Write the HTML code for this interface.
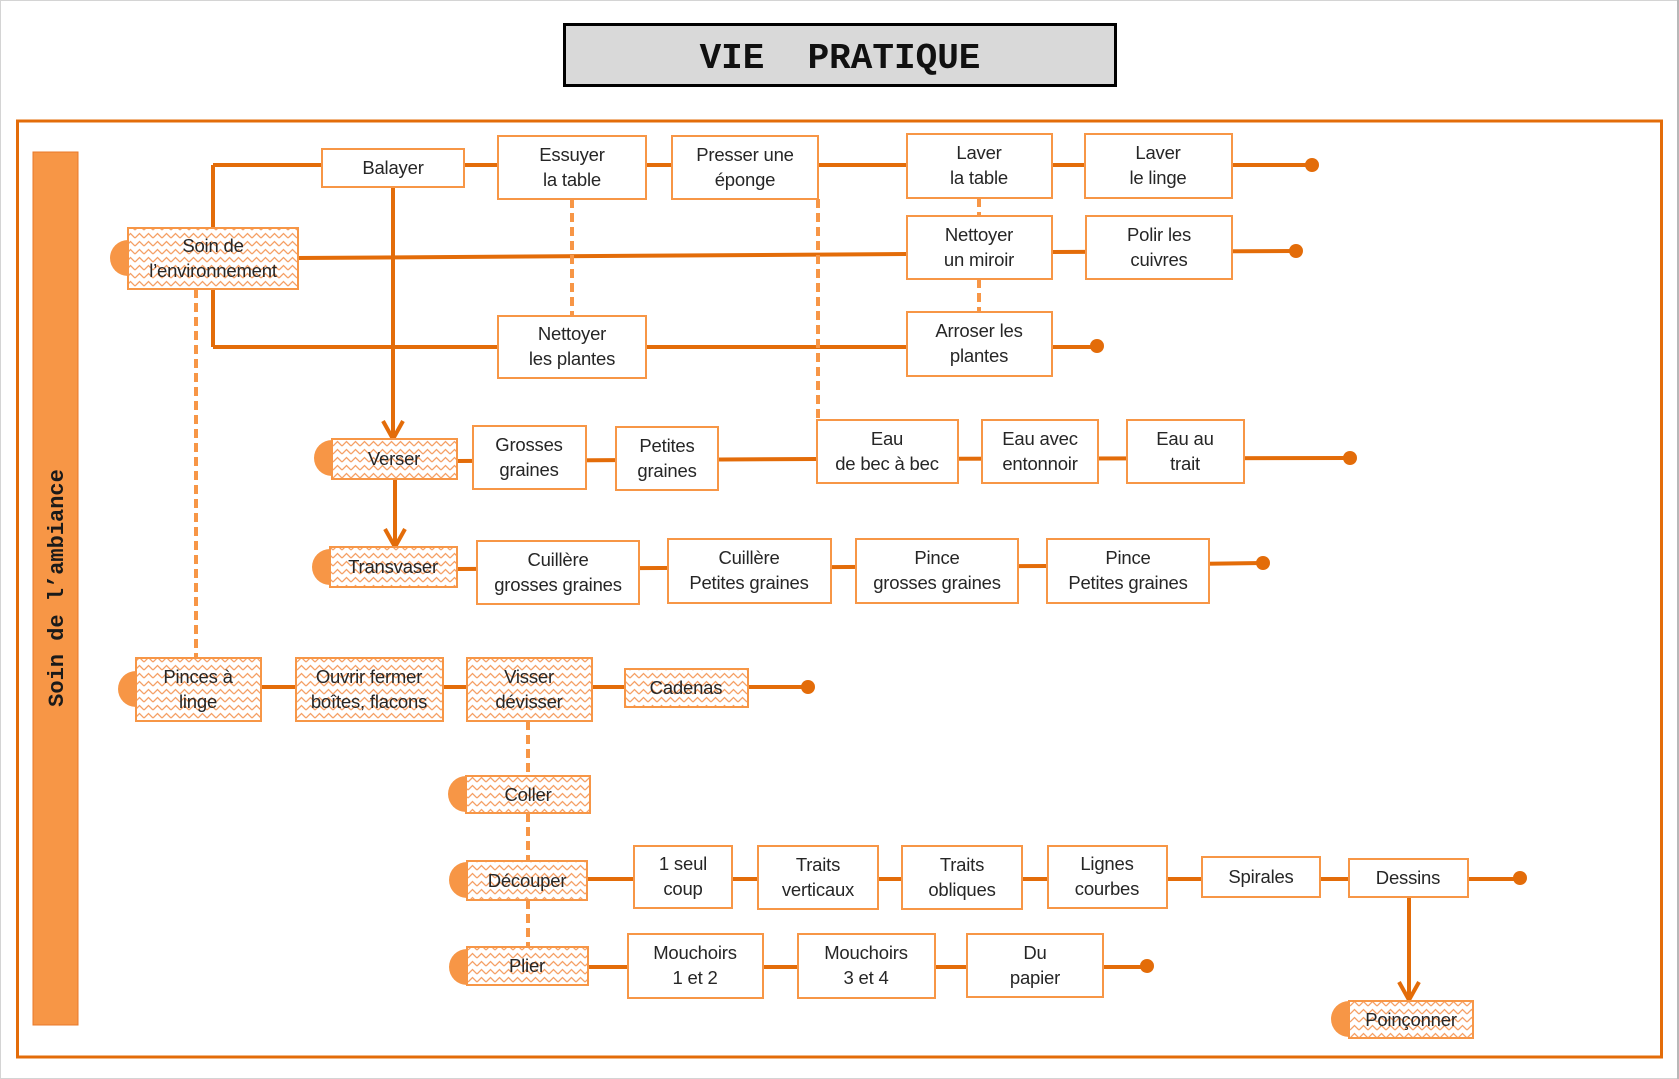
<!DOCTYPE html>
<html><head><meta charset="utf-8">
<style>
html,body{margin:0;padding:0;background:#fff;}
body{width:1679px;height:1079px;overflow:hidden;position:relative;}
svg{position:absolute;left:0;top:0;display:block;}
.t{font-family:"Liberation Sans",sans-serif;font-size:18.5px;fill:#262626;text-anchor:middle;letter-spacing:-0.2px;}
.b{fill:#fff;stroke:#F79646;stroke-width:2;}
.h{fill:url(#zz);stroke:#F79646;stroke-width:2;}
.c{fill:#F79646;}
.ln{stroke:#E36C09;stroke-width:4;fill:none;}
.ds{stroke:#F79646;stroke-width:4;fill:none;stroke-dasharray:9 5;}
.dot{fill:#E36C09;}
</style></head>
<body>
<svg width="1679" height="1079" viewBox="0 0 1679 1079">
<defs>
<pattern id="zz" width="9" height="8" patternUnits="userSpaceOnUse">
<rect width="9" height="8" fill="#fff"/>
<path d="M0 6 L4.5 1.5 L9 6" fill="none" stroke="#F5A066" stroke-width="1.3"/>
</pattern>
</defs>
<!-- page frame -->
<rect x="0.5" y="0.5" width="1677" height="1078" fill="none" stroke="#d4d4d4" stroke-width="1"/>
<line x1="1678" y1="0" x2="1678" y2="1079" stroke="#b8b8b8" stroke-width="2"/>

<!-- title -->
<rect x="564.5" y="24.5" width="551" height="61" fill="#D9D9D9" stroke="#000" stroke-width="3"/>
<text x="840" y="68" style="font-family:'Liberation Mono',monospace;font-weight:bold;font-size:36px;fill:#111;text-anchor:middle;white-space:pre;">VIE  PRATIQUE</text>

<!-- outer border -->
<rect x="17.5" y="121" width="1644" height="936" fill="none" stroke="#E36C09" stroke-width="3"/>

<!-- side bar -->
<rect x="33" y="152" width="45" height="873" fill="#F79646" stroke="#E8782A" stroke-width="1"/>
<text transform="translate(63,588) rotate(-90)" style="font-family:'Liberation Mono',monospace;font-weight:bold;font-size:22px;fill:#1a1a1a;text-anchor:middle;white-space:pre;">Soin de l’ambiance</text>

<!-- solid connectors -->
<path class="ln" d="M213 165 H1312"/>
<path class="ln" d="M213 165 V347"/>
<path class="ln" d="M297 258 L907 254"/>
<path class="ln" d="M1052 252 L1296 251"/>
<path class="ln" d="M213 347 H1097"/>
<path class="ln" d="M393 187 V437"/>
<polyline class="ln" points="383,421 393,439 403,421"/>
<path class="ln" d="M457 461 L817 459 L1350 458"/>
<path class="ln" d="M395 479 V545"/>
<polyline class="ln" points="385,529 395,547 405,529"/>
<path class="ln" d="M457 569 L1047 566 L1263 563"/>
<path class="ln" d="M261 687 H808"/>
<path class="ln" d="M587 879 H1520"/>
<path class="ln" d="M588 967 H1147"/>
<path class="ln" d="M1409 897 V998"/>
<polyline class="ln" points="1399,982 1409,1000 1419,982"/>

<!-- end dots -->
<circle class="dot" cx="1312" cy="165" r="7"/>
<circle class="dot" cx="1296" cy="251" r="7"/>
<circle class="dot" cx="1097" cy="346" r="7"/>
<circle class="dot" cx="1350" cy="458" r="7"/>
<circle class="dot" cx="1263" cy="563" r="7"/>
<circle class="dot" cx="808" cy="687" r="7"/>
<circle class="dot" cx="1520" cy="878" r="7"/>
<circle class="dot" cx="1147" cy="966" r="7"/>

<!-- dashed connectors -->
<path class="ds" d="M196 289 V658"/>
<path class="ds" d="M572 199 V316"/>
<path class="ds" d="M818 199 V420"/>
<path class="ds" d="M979 198 V216"/>
<path class="ds" d="M979 279 V312"/>
<path class="ds" d="M528 721 V776"/>
<path class="ds" d="M528 813 V861"/>
<path class="ds" d="M528 900 V947"/>

<!-- semicircles -->
<circle class="c" cx="128" cy="258" r="18"/>
<circle class="c" cx="332" cy="458" r="18"/>
<circle class="c" cx="330" cy="567" r="18"/>
<circle class="c" cx="136" cy="689" r="18"/>
<circle class="c" cx="466" cy="794" r="18"/>
<circle class="c" cx="467" cy="880" r="18"/>
<circle class="c" cx="467" cy="967" r="18"/>
<circle class="c" cx="1349" cy="1019" r="18"/>

<!-- hatched boxes -->
<rect class="h" x="128" y="228" width="170" height="61"/>
<text class="t" x="213" y="252">Soin  de</text>
<text class="t" x="213" y="277">l’environnement</text>

<rect class="h" x="332" y="439" width="125" height="40"/>
<text class="t" x="394" y="465">Verser</text>

<rect class="h" x="330" y="547" width="127" height="40"/>
<text class="t" x="393" y="573">Transvaser</text>

<rect class="h" x="136" y="658" width="125" height="63"/>
<text class="t" x="198" y="683">Pinces à</text>
<text class="t" x="198" y="708">linge</text>

<rect class="h" x="296" y="658" width="147" height="63"/>
<text class="t" x="369" y="683">Ouvrir  fermer</text>
<text class="t" x="369" y="708">boîtes, flacons</text>

<rect class="h" x="467" y="658" width="125" height="63"/>
<text class="t" x="529" y="683">Visser</text>
<text class="t" x="529" y="708">dévisser</text>

<rect class="h" x="625" y="669" width="123" height="38"/>
<text class="t" x="686" y="694">Cadenas</text>

<rect class="h" x="466" y="776" width="124" height="37"/>
<text class="t" x="528" y="801">Coller</text>

<rect class="h" x="467" y="861" width="120" height="39"/>
<text class="t" x="527" y="887">Découper</text>

<rect class="h" x="467" y="947" width="121" height="38"/>
<text class="t" x="527" y="972">Plier</text>

<rect class="h" x="1349" y="1001" width="124" height="37"/>
<text class="t" x="1411" y="1026">Poinçonner</text>

<!-- plain boxes -->
<rect class="b" x="322" y="149" width="142" height="38"/>
<text class="t" x="393" y="174">Balayer</text>

<rect class="b" x="498" y="136" width="148" height="63"/>
<text class="t" x="572" y="161">Essuyer</text>
<text class="t" x="572" y="186">la table</text>

<rect class="b" x="672" y="136" width="146" height="63"/>
<text class="t" x="745" y="161">Presser une</text>
<text class="t" x="745" y="186">éponge</text>

<rect class="b" x="907" y="134" width="145" height="64"/>
<text class="t" x="979" y="159">Laver</text>
<text class="t" x="979" y="184">la table</text>

<rect class="b" x="1085" y="134" width="147" height="64"/>
<text class="t" x="1158" y="159">Laver</text>
<text class="t" x="1158" y="184">le linge</text>

<rect class="b" x="907" y="216" width="145" height="63"/>
<text class="t" x="979" y="241">Nettoyer</text>
<text class="t" x="979" y="266">un miroir</text>

<rect class="b" x="1086" y="216" width="146" height="63"/>
<text class="t" x="1159" y="241">Polir les</text>
<text class="t" x="1159" y="266">cuivres</text>

<rect class="b" x="498" y="316" width="148" height="62"/>
<text class="t" x="572" y="340">Nettoyer</text>
<text class="t" x="572" y="365">les plantes</text>

<rect class="b" x="907" y="312" width="145" height="64"/>
<text class="t" x="979" y="337">Arroser les</text>
<text class="t" x="979" y="362">plantes</text>

<rect class="b" x="473" y="426" width="113" height="63"/>
<text class="t" x="529" y="451">Grosses</text>
<text class="t" x="529" y="476">graines</text>

<rect class="b" x="616" y="427" width="102" height="63"/>
<text class="t" x="667" y="452">Petites</text>
<text class="t" x="667" y="477">graines</text>

<rect class="b" x="817" y="420" width="141" height="63"/>
<text class="t" x="887" y="445">Eau</text>
<text class="t" x="887" y="470">de bec à bec</text>

<rect class="b" x="982" y="420" width="116" height="63"/>
<text class="t" x="1040" y="445">Eau avec</text>
<text class="t" x="1040" y="470">entonnoir</text>

<rect class="b" x="1127" y="420" width="117" height="63"/>
<text class="t" x="1185" y="445">Eau au</text>
<text class="t" x="1185" y="470">trait</text>

<rect class="b" x="477" y="541" width="162" height="63"/>
<text class="t" x="558" y="566">Cuillère</text>
<text class="t" x="558" y="591">grosses graines</text>

<rect class="b" x="668" y="539" width="163" height="64"/>
<text class="t" x="749" y="564">Cuillère</text>
<text class="t" x="749" y="589">Petites graines</text>

<rect class="b" x="856" y="539" width="162" height="64"/>
<text class="t" x="937" y="564">Pince</text>
<text class="t" x="937" y="589">grosses graines</text>

<rect class="b" x="1047" y="539" width="162" height="64"/>
<text class="t" x="1128" y="564">Pince</text>
<text class="t" x="1128" y="589">Petites graines</text>

<rect class="b" x="634" y="846" width="98" height="62"/>
<text class="t" x="683" y="870">1 seul</text>
<text class="t" x="683" y="895">coup</text>

<rect class="b" x="758" y="846" width="120" height="63"/>
<text class="t" x="818" y="871">Traits</text>
<text class="t" x="818" y="896">verticaux</text>

<rect class="b" x="902" y="846" width="120" height="63"/>
<text class="t" x="962" y="871">Traits</text>
<text class="t" x="962" y="896">obliques</text>

<rect class="b" x="1048" y="846" width="119" height="62"/>
<text class="t" x="1107" y="870">Lignes</text>
<text class="t" x="1107" y="895">courbes</text>

<rect class="b" x="1202" y="857" width="118" height="40"/>
<text class="t" x="1261" y="883">Spirales</text>

<rect class="b" x="1349" y="859" width="119" height="38"/>
<text class="t" x="1408" y="884">Dessins</text>

<rect class="b" x="628" y="934" width="135" height="64"/>
<text class="t" x="695" y="959">Mouchoirs</text>
<text class="t" x="695" y="984">1 et 2</text>

<rect class="b" x="798" y="934" width="137" height="64"/>
<text class="t" x="866" y="959">Mouchoirs</text>
<text class="t" x="866" y="984">3 et 4</text>

<rect class="b" x="967" y="934" width="136" height="63"/>
<text class="t" x="1035" y="959">Du</text>
<text class="t" x="1035" y="984">papier</text>
</svg>
</body></html>
